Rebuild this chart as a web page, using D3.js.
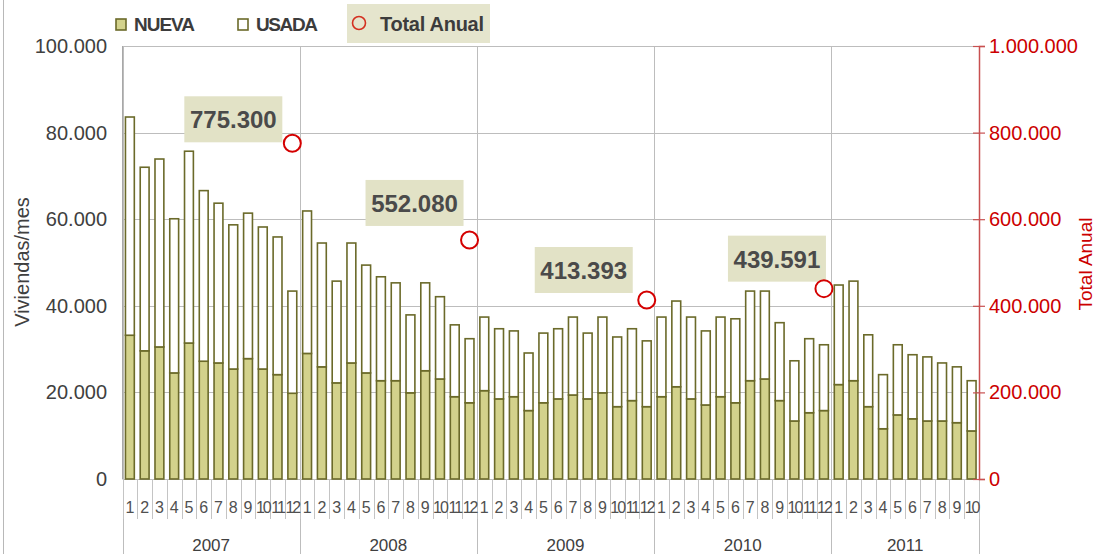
<!DOCTYPE html>
<html>
<head>
<meta charset="utf-8">
<script src="https://cdn.jsdelivr.net/npm/d3@7"></script>
<style>
  body { margin: 0; background: #fff; }
  text { font-family: "Liberation Sans", Arial, sans-serif; }
</style>
</head>
<body>
<svg id="chart"></svg>
<script>
// data
const years = ['2007', '2008', '2009', '2010', '2011']
const monthsPerYear = [12, 12, 12, 12, 10]

const nueva = [
  33200, 29600, 30500, 24500, 31400, 27200, 26800, 25400, 27800, 25400, 24100, 19800,
  29000, 25900, 22200, 26800, 24500, 22700, 22700, 19900, 25000, 23100, 19000, 17600,
  20400, 18500, 19000, 15800, 17600, 18500, 19400, 18500, 19900, 16700, 18100, 16700,
  19000, 21300, 18500, 17100, 19000, 17600, 22700, 23100, 18100, 13400, 15300, 15800,
  21800, 22700, 16700, 11600, 14800, 13900, 13400, 13400, 13000, 11100
]
const usada = [
  50400, 42400, 43400, 35600, 44300, 39400, 36900, 33300, 33600, 32800, 31800, 23600,
  32900, 28600, 23500, 27700, 24900, 24000, 22600, 18000, 20300, 19000, 16600, 14800,
  17000, 16200, 15200, 13300, 16100, 16200, 18000, 15200, 17500, 16100, 16600, 15200,
  18400, 19800, 18900, 17100, 18400, 19400, 20700, 20300, 18000, 13900, 17100, 15200,
  23000, 23000, 16600, 12500, 16200, 14800, 14800, 13400, 12900, 11600
]
const totalAnual = [775300, 552080, 413393, 439591]
const totalLabels = ['775.300', '552.080', '413.393', '439.591']

const leftTicks = [0, 20000, 40000, 60000, 80000, 100000]
const rightTicks = [0, 200000, 400000, 600000, 800000, 1000000]

// label box placement relative to the circle (right, bottom)
const labelOffsets = [[-10, -1], [-6, -14], [-14, -7], [2, -7]]

const W = 1097, H = 554
const pLeft = 122.5, pRight = 979, pTop = 46, pBottom = 479

const fmt = d3.formatLocale({decimal: ',', thousands: '.', grouping: [3]}).format(',')

// categories
const cats = []
years.forEach((y, i) => {
  for (let m = 1; m <= monthsPerYear[i]; m++) cats.push({year: y, month: m, key: y + '-' + m})
})
const rows = cats.map((c, i) => ({...c, nueva: nueva[i], usada: usada[i]}))

const svg = d3.select('#chart').attr('width', W).attr('height', H)

const x = d3.scaleBand()
  .domain(cats.map(c => c.key))
  .range([pLeft, pRight])
  .paddingInner(0.4)
  .paddingOuter(0.2)
const step = x.step()
const yL = d3.scaleLinear().domain([0, 100000]).range([pBottom, pTop])
const yR = d3.scaleLinear().domain([0, 1000000]).range([pBottom, pTop])

// chart border at left
svg.append('line')
  .attr('x1', 3.5).attr('x2', 3.5).attr('y1', 0).attr('y2', H)
  .attr('stroke', '#b8b8b8')

// horizontal grid
svg.append('g')
  .selectAll('line')
  .data(leftTicks)
  .enter()
  .append('line')
  .attr('x1', pLeft).attr('x2', pRight)
  .attr('y1', d => Math.round(yL(d)) + 0.5)
  .attr('y2', d => Math.round(yL(d)) + 0.5)
  .attr('stroke', '#bdbdbd')

// year separators (grid + category axis)
let yearStarts = [0]
monthsPerYear.forEach((n, i) => yearStarts.push(yearStarts[i] + n))
svg.append('g')
  .selectAll('line')
  .data(yearStarts)
  .enter()
  .append('line')
  .attr('x1', d => Math.round(pLeft + d * step) + 0.5)
  .attr('x2', d => Math.round(pLeft + d * step) + 0.5)
  .attr('y1', pTop).attr('y2', H)
  .attr('stroke', '#bdbdbd')

// month ticks below the axis
svg.append('g')
  .selectAll('line')
  .data(d3.range(cats.length + 1))
  .enter()
  .append('line')
  .attr('x1', d => Math.round(pLeft + d * step) + 0.5)
  .attr('x2', d => Math.round(pLeft + d * step) + 0.5)
  .attr('y1', pBottom).attr('y2', 519)
  .attr('stroke', '#c4c4c4')

// left axis line
svg.append('line')
  .attr('x1', pLeft).attr('x2', pLeft).attr('y1', pTop).attr('y2', pBottom)
  .attr('stroke', '#a8a8a8')

// stacked bars
const stack = d3.stack().keys(['nueva', 'usada'])(rows)
const fills = {nueva: '#d3d28c', usada: '#ffffff'}
svg.append('g')
  .selectAll('g')
  .data(stack)
  .enter()
  .append('g')
  .attr('fill', d => fills[d.key])
  .selectAll('rect')
  .data(d => d)
  .enter()
  .append('rect')
  .attr('x', d => x(d.data.key))
  .attr('y', d => yL(d[1]))
  .attr('width', x.bandwidth())
  .attr('height', d => yL(d[0]) - yL(d[1]))
  .attr('stroke', '#6b6a2a')
  .attr('stroke-width', 1.6)

// left axis labels
svg.append('g')
  .selectAll('text')
  .data(leftTicks)
  .enter()
  .append('text')
  .attr('x', 107)
  .attr('y', d => yL(d) + 7)
  .attr('text-anchor', 'end')
  .attr('font-size', 20)
  .attr('fill', '#404040')
  .text(d => fmt(d))

// right axis
const rAxis = d3.axisRight(yR).tickValues(rightTicks).tickSize(6).tickFormat(d => fmt(d))
const rg = svg.append('g')
  .attr('transform', `translate(${pRight},0)`)
  .call(rAxis)
rg.select('.domain').attr('stroke', '#c85050').attr('stroke-width', 1.5)
rg.selectAll('.tick line').attr('stroke', '#c85050').attr('x1', -6).attr('x2', 6).attr('stroke-width', 1.2)
rg.selectAll('.tick text')
  .attr('x', 10)
  .attr('font-size', 20)
  .attr('font-family', '"Liberation Sans", Arial, sans-serif')
  .attr('fill', '#cc0000')

// month labels
svg.append('g')
  .selectAll('text')
  .data(cats)
  .enter()
  .append('text')
  .attr('x', d => x(d.key) + x.bandwidth() / 2)
  .attr('y', 513)
  .attr('text-anchor', 'middle')
  .attr('font-size', 16)
  .attr('letter-spacing', d => d.month > 9 ? -2 : 0)
  .attr('fill', '#505050')
  .text(d => d.month)

// year labels
svg.append('g')
  .selectAll('text')
  .data(years)
  .enter()
  .append('text')
  .attr('x', (d, i) => pLeft + (yearStarts[i] + monthsPerYear[i] / 2) * step)
  .attr('y', 551)
  .attr('text-anchor', 'middle')
  .attr('font-size', 17)
  .attr('fill', '#404040')
  .text(d => d)

// total anual points + labels
const pts = totalAnual.map((v, i) => {
  const lastKey = years[i] + '-12'
  return {v, label: totalLabels[i], cx: x(lastKey) + x.bandwidth() / 2, cy: yR(v), off: labelOffsets[i]}
})
const lab = svg.append('g')
  .selectAll('g')
  .data(pts)
  .enter()
  .append('g')
lab.append('rect')
  .attr('x', d => d.cx + d.off[0] - 98)
  .attr('y', d => d.cy + d.off[1] - 46)
  .attr('width', 98)
  .attr('height', 46)
  .attr('fill', '#e2e2c6')
lab.append('text')
  .attr('x', d => d.cx + d.off[0] - 49)
  .attr('y', d => d.cy + d.off[1] - 14)
  .attr('text-anchor', 'middle')
  .attr('font-size', 24)
  .attr('font-weight', 'bold')
  .attr('fill', '#4a4a4a')
  .text(d => d.label)
svg.append('g')
  .selectAll('circle')
  .data(pts)
  .enter()
  .append('circle')
  .attr('cx', d => d.cx)
  .attr('cy', d => d.cy)
  .attr('r', 8.5)
  .attr('fill', '#fff')
  .attr('stroke', '#d40000')
  .attr('stroke-width', 2)

// axis titles
svg.append('text')
  .attr('transform', 'translate(29,262) rotate(-90)')
  .attr('text-anchor', 'middle')
  .attr('font-size', 20)
  .attr('fill', '#404040')
  .text('Viviendas/mes')
svg.append('text')
  .attr('transform', 'translate(1092,264) rotate(-90)')
  .attr('text-anchor', 'middle')
  .attr('font-size', 19)
  .attr('fill', '#cc0000')
  .text('Total Anual')

// legend
const lg = svg.append('g')
lg.append('rect').attr('x', 116).attr('y', 19).attr('width', 10).attr('height', 11)
  .attr('fill', '#d3d28c').attr('stroke', '#6b6a2a').attr('stroke-width', 1.6)
lg.append('text').attr('x', 134).attr('y', 31).attr('font-size', 19).attr('font-weight', 'bold')
  .attr('fill', '#3c3c3c').attr('textLength', 61).text('NUEVA')
lg.append('rect').attr('x', 238).attr('y', 19).attr('width', 10).attr('height', 11)
  .attr('fill', '#fff').attr('stroke', '#6b6a2a').attr('stroke-width', 1.6)
lg.append('text').attr('x', 256).attr('y', 31).attr('font-size', 19).attr('font-weight', 'bold')
  .attr('fill', '#3c3c3c').attr('textLength', 62).text('USADA')
lg.append('rect').attr('x', 347).attr('y', 4).attr('width', 143).attr('height', 39)
  .attr('fill', '#e5e5cd')
lg.append('circle').attr('cx', 359).attr('cy', 23).attr('r', 6.5)
  .attr('fill', 'none').attr('stroke', '#d43020').attr('stroke-width', 1.6)
lg.append('text').attr('x', 380).attr('y', 31).attr('font-size', 20).attr('font-weight', 'bold')
  .attr('fill', '#3c3c3c').attr('textLength', 104).text('Total Anual')
</script>
</body>
</html>
